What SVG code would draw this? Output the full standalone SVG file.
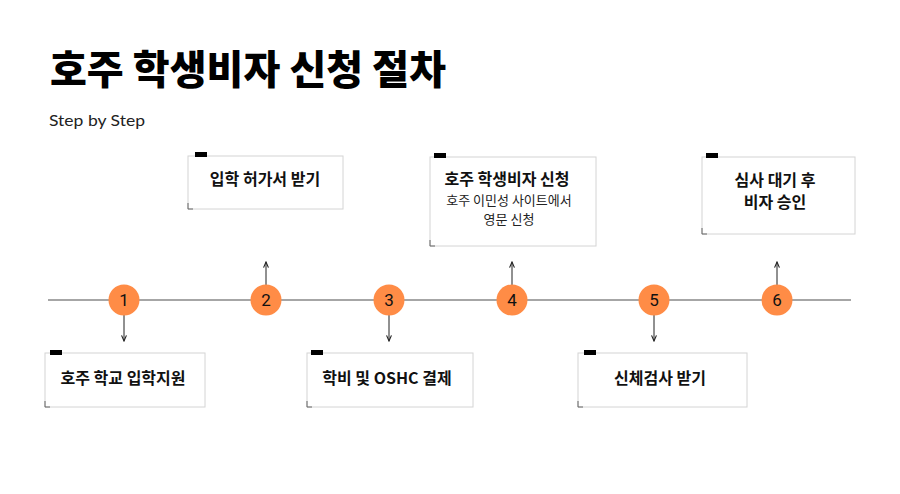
<svg xmlns="http://www.w3.org/2000/svg" width="900" height="494" viewBox="0 0 900 494">
<defs>
<marker id="ah" viewBox="0 0 10 10" refX="9" refY="5" markerWidth="7" markerHeight="7" orient="auto-start-reverse" markerUnits="userSpaceOnUse">
<path d="M1,1.5 L9,5 L1,8.5" fill="none" stroke="#222" stroke-width="1.6"/>
</marker>
<style>
.kr{font-family:"Noto Sans CJK KR","Noto Sans",sans-serif;}
.title{font-size:40px;font-weight:900;fill:#000;}
.sub{font-family:"Lato","Noto Sans",sans-serif;font-size:15.5px;fill:#222;}
.box{fill:#fff;stroke:#d4d4d4;stroke-width:1;}
.corner{fill:none;stroke:#666;stroke-width:1;}
.tab{fill:#000;}
.lbl{font-size:16px;font-weight:700;fill:#111;text-anchor:middle;}
.desc{font-size:13px;font-weight:400;fill:#222;text-anchor:middle;}
.circ{fill:#FF8C46;}
.num{font-family:"Roboto","Noto Sans",sans-serif;font-size:17px;fill:#111;text-anchor:middle;}
.conn{stroke:#222;stroke-width:1;fill:none;}
.axis{stroke:#888;stroke-width:1.5;}
</style>
</defs>
<rect width="900" height="494" fill="#fff"/>
<text class="kr title" x="50" y="84" textLength="396" lengthAdjust="spacingAndGlyphs">호주 학생비자 신청 절차</text>
<text class="sub" x="49" y="126" textLength="96" lengthAdjust="spacingAndGlyphs">Step by Step</text>

<g id="connectors">
<line class="axis" x1="48" y1="300" x2="851" y2="300"/>
<line class="conn" x1="124" y1="315" x2="124" y2="341" marker-end="url(#ah)"/>
<line class="conn" x1="266" y1="285" x2="266" y2="262" marker-end="url(#ah)"/>
<line class="conn" x1="389" y1="315" x2="389" y2="341" marker-end="url(#ah)"/>
<line class="conn" x1="512" y1="285" x2="512" y2="262" marker-end="url(#ah)"/>
<line class="conn" x1="654" y1="315" x2="654" y2="341" marker-end="url(#ah)"/>
<line class="conn" x1="777" y1="285" x2="777" y2="262" marker-end="url(#ah)"/>
</g>

<g id="step1">
<circle class="circ" cx="124" cy="300" r="15.5"/>
<text class="num" x="124" y="306">1</text>
</g>
<g id="step2">
<circle class="circ" cx="266" cy="300" r="15.5"/>
<text class="num" x="266" y="306">2</text>
</g>
<g id="step3">
<circle class="circ" cx="389" cy="300" r="15.5"/>
<text class="num" x="389" y="306">3</text>
</g>
<g id="step4">
<circle class="circ" cx="512" cy="300" r="15.5"/>
<text class="num" x="512" y="306">4</text>
</g>
<g id="step5">
<circle class="circ" cx="654" cy="300" r="15.5"/>
<text class="num" x="654" y="306">5</text>
</g>
<g id="step6">
<circle class="circ" cx="777" cy="300" r="15.5"/>
<text class="num" x="777" y="306">6</text>
</g>

<g id="box1">
<rect class="box" x="45" y="353" width="160" height="54"/>
<path class="corner" d="M45,401 V407 H50"/>
<rect class="tab" x="50" y="350" width="12" height="5"/>
<text class="kr lbl" x="123" y="384">호주 학교 입학지원</text>
</g>
<g id="box2">
<rect class="box" x="188" y="156" width="155" height="53"/>
<path class="corner" d="M188,203 V209 H193"/>
<rect class="tab" x="195" y="152" width="12" height="5"/>
<text class="kr lbl" x="265" y="185">입학 허가서 받기</text>
</g>
<g id="box3">
<rect class="box" x="307" y="353" width="166" height="54"/>
<path class="corner" d="M307,401 V407 H312"/>
<rect class="tab" x="311" y="350" width="12" height="5"/>
<text class="kr lbl" x="387" y="384">학비 및 OSHC 결제</text>
</g>
<g id="box4">
<rect class="box" x="430" y="157" width="166" height="89"/>
<path class="corner" d="M430,240 V246 H435"/>
<rect class="tab" x="434" y="153" width="12" height="5"/>
<text class="kr lbl" x="507" y="185">호주 학생비자 신청</text>
<text class="kr desc" x="509" y="205">호주 이민성 사이트에서</text>
<text class="kr desc" x="509" y="224">영문 신청</text>
</g>
<g id="box5">
<rect class="box" x="578" y="353" width="169" height="54"/>
<path class="corner" d="M578,401 V407 H583"/>
<rect class="tab" x="584" y="350" width="12" height="5"/>
<text class="kr lbl" x="660" y="384">신체검사 받기</text>
</g>
<g id="box6">
<rect class="box" x="702" y="157" width="153" height="77"/>
<path class="corner" d="M702,228 V234 H707"/>
<rect class="tab" x="706" y="153" width="12" height="5"/>
<text class="kr lbl" x="775" y="186">심사 대기 후</text>
<text class="kr lbl" x="775" y="208">비자 승인</text>
</g>
</svg>
